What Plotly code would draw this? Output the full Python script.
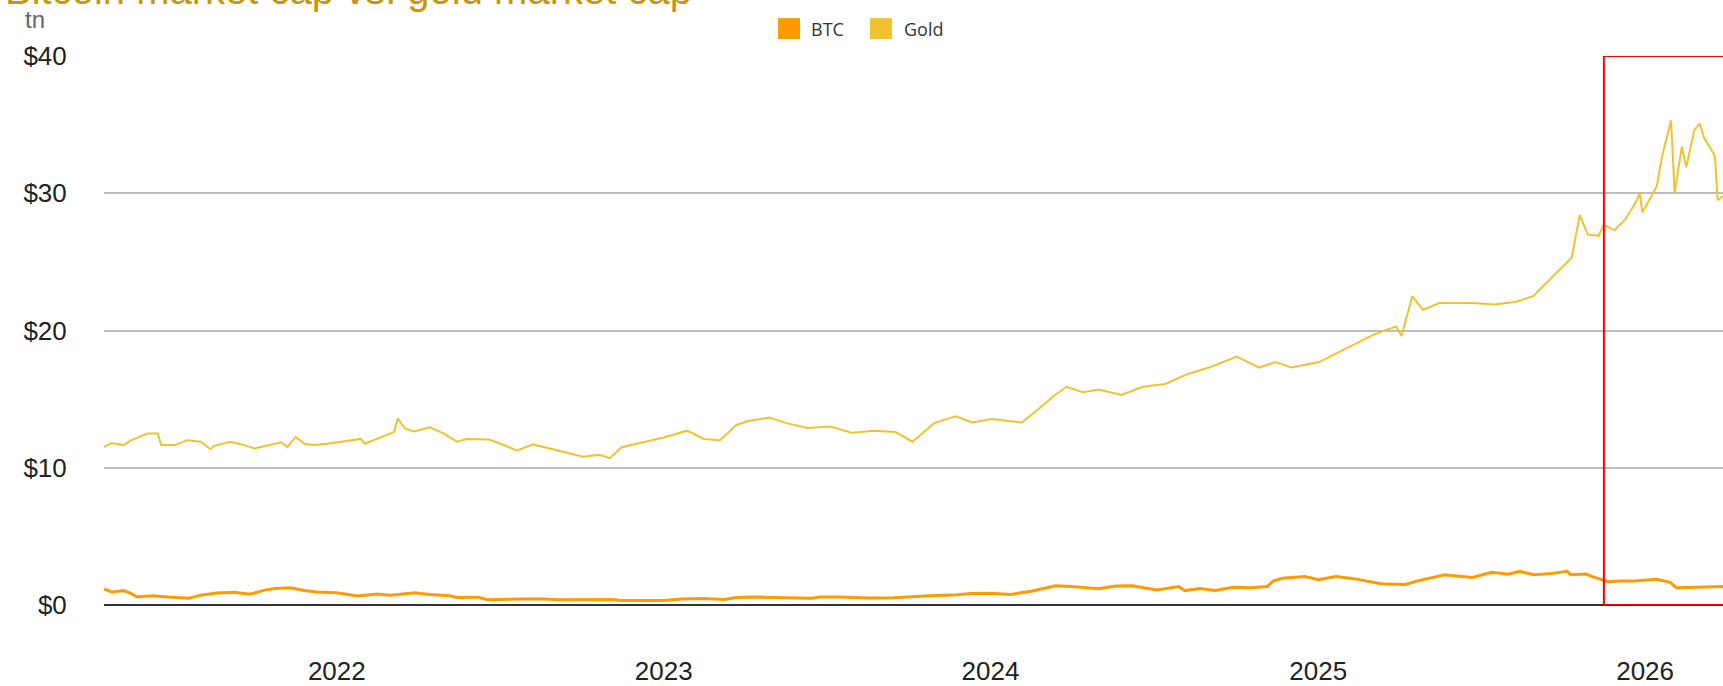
import plotly.graph_objects as go

# market caps in $ trillions
gold_dates = [
    "2021-04-16", "2021-04-24", "2021-05-08", "2021-05-16", "2021-06-04", "2021-06-15", "2021-06-19",
    "2021-07-04", "2021-07-18", "2021-08-02", "2021-08-13", "2021-08-17", "2021-09-04", "2021-09-20",
    "2021-10-01", "2021-10-16", "2021-10-31", "2021-11-07", "2021-11-16", "2021-11-26", "2021-12-07",
    "2021-12-21", "2022-01-05", "2022-01-28", "2022-02-01", "2022-02-19", "2022-03-06", "2022-03-10",
    "2022-03-18", "2022-03-28", "2022-04-15", "2022-04-30", "2022-05-15", "2022-05-26", "2022-06-11",
    "2022-06-20", "2022-07-09", "2022-07-21", "2022-08-08", "2022-08-27", "2022-09-14", "2022-10-03",
    "2022-10-21", "2022-11-02", "2022-11-15", "2022-12-03", "2023-01-01", "2023-01-27", "2023-02-15",
    "2023-03-05", "2023-03-23", "2023-04-05", "2023-04-29", "2023-05-18", "2023-06-11", "2023-07-06",
    "2023-07-30", "2023-08-24", "2023-09-17", "2023-10-06", "2023-10-30", "2023-11-23", "2023-12-12",
    "2024-01-02", "2024-02-05", "2024-02-24", "2024-03-13", "2024-03-26", "2024-04-13", "2024-05-01",
    "2024-05-26", "2024-06-19", "2024-07-14", "2024-08-07", "2024-09-01", "2024-10-02", "2024-10-27",
    "2024-11-14", "2024-12-02", "2025-01-02", "2025-02-01", "2025-03-04", "2025-03-29", "2025-04-04",
    "2025-04-16", "2025-04-28", "2025-05-16", "2025-06-22", "2025-07-17", "2025-08-10", "2025-08-29",
    "2025-09-16", "2025-10-11", "2025-10-20", "2025-10-29", "2025-11-10", "2025-11-16", "2025-11-28",
    "2025-12-10", "2025-12-23", "2025-12-26", "2025-12-29", "2026-01-04", "2026-01-14", "2026-01-20",
    "2026-01-25", "2026-01-30", "2026-02-03", "2026-02-11", "2026-02-16", "2026-02-25", "2026-03-03",
    "2026-03-08", "2026-03-14", "2026-03-20", "2026-03-23", "2026-03-29",
]
gold_values = [
    11.5, 11.8, 11.65, 12.0, 12.5, 12.5, 11.65,
    11.65, 12.0, 11.9, 11.35, 11.6, 11.9, 11.65,
    11.4, 11.65, 11.85, 11.5, 12.25, 11.75, 11.65,
    11.75, 11.9, 12.1, 11.75, 12.2, 12.6, 13.6,
    12.85, 12.65, 12.95, 12.5, 11.9, 12.1, 12.1,
    12.05, 11.6, 11.25, 11.7, 11.4, 11.1, 10.8,
    10.95, 10.7, 11.5, 11.75, 12.2, 12.7, 12.1,
    12.0, 13.1, 13.4, 13.65, 13.25, 12.9, 13.0,
    12.55, 12.7, 12.6, 11.9, 13.25, 13.75, 13.3,
    13.55, 13.3, 14.3, 15.3, 15.9, 15.5, 15.7,
    15.3, 15.9, 16.1, 16.8, 17.3, 18.1, 17.3,
    17.7, 17.3, 17.7, 18.7, 19.7, 20.3, 19.6,
    22.5, 21.5, 22.0, 22.0, 21.9, 22.1, 22.5,
    23.7, 25.3, 28.4, 27.0, 26.9, 27.7, 27.3,
    28.1, 29.5, 30.05, 28.6, 29.3, 30.5, 32.7,
    33.9, 35.3, 30.05, 33.4, 31.9, 34.6, 35.1,
    34.0, 33.4, 32.7, 29.5, 29.8,
]

btc_dates = [
    "2021-04-16", "2021-04-25", "2021-05-08", "2021-05-16", "2021-05-23", "2021-06-10", "2021-06-26",
    "2021-07-20", "2021-08-02", "2021-08-20", "2021-09-08", "2021-09-26", "2021-10-10", "2021-10-23",
    "2021-11-10", "2021-11-26", "2021-12-10", "2022-01-01", "2022-01-24", "2022-02-15", "2022-03-02",
    "2022-03-29", "2022-04-15", "2022-05-07", "2022-05-15", "2022-06-08", "2022-06-18", "2022-07-25",
    "2022-08-14", "2022-09-07", "2022-10-22", "2022-11-05", "2022-11-15", "2022-12-15", "2023-01-01",
    "2023-01-21", "2023-02-15", "2023-03-10", "2023-03-23", "2023-04-13", "2023-05-23", "2023-06-15",
    "2023-06-25", "2023-07-15", "2023-08-20", "2023-09-15", "2023-10-25", "2023-11-20", "2023-12-10",
    "2024-01-02", "2024-01-23", "2024-02-15", "2024-03-14", "2024-04-01", "2024-04-30", "2024-05-20",
    "2024-06-07", "2024-07-05", "2024-07-29", "2024-08-05", "2024-08-22", "2024-09-08", "2024-09-28",
    "2024-10-17", "2024-11-05", "2024-11-12", "2024-11-22", "2024-12-17", "2025-01-01", "2025-01-21",
    "2025-02-10", "2025-02-28", "2025-03-12", "2025-04-08", "2025-04-22", "2025-05-22", "2025-06-22",
    "2025-07-14", "2025-08-01", "2025-08-14", "2025-08-30", "2025-09-18", "2025-10-06", "2025-10-10",
    "2025-10-27", "2025-11-04", "2025-11-16", "2025-11-21", "2025-12-05", "2025-12-20", "2026-01-14",
    "2026-01-29", "2026-02-05", "2026-02-20", "2026-03-10", "2026-03-29",
]
btc_values = [
    1.17, 0.95, 1.05, 0.85, 0.6, 0.68, 0.58,
    0.5, 0.72, 0.88, 0.92, 0.78, 1.05, 1.2,
    1.25, 1.05, 0.95, 0.9, 0.65, 0.8, 0.72,
    0.9, 0.77, 0.68, 0.55, 0.57, 0.38, 0.43,
    0.46, 0.38, 0.37, 0.4, 0.32, 0.33, 0.32,
    0.44, 0.47, 0.4, 0.54, 0.58, 0.52, 0.49,
    0.59, 0.59, 0.51, 0.52, 0.67, 0.72, 0.84,
    0.86, 0.77, 1.0, 1.4, 1.35, 1.18, 1.38,
    1.4, 1.1, 1.35, 1.05, 1.2, 1.05, 1.3,
    1.25, 1.35, 1.76, 1.95, 2.07, 1.85, 2.07,
    1.92, 1.68, 1.55, 1.5, 1.76, 2.2, 2.0,
    2.38, 2.25, 2.45, 2.2, 2.3, 2.45, 2.2,
    2.25, 2.05, 1.84, 1.7, 1.75, 1.75, 1.87,
    1.65, 1.25, 1.27, 1.3, 1.35,
]

year_ticks = ["2022-01-01", "2023-01-01", "2024-01-01", "2025-01-01", "2026-01-01"]
year_labels = ["2022", "2023", "2024", "2025", "2026"]
y_ticks = [0, 10, 20, 30, 40]
y_labels = ["$0", "$10", "$20", "$30", "$40"]

x_range = ["2021-04-16", "2026-03-29"]
highlight_start = "2025-11-16"

BTC_COLOR = "#FF9A00"
GOLD_COLOR = "#F0C232"

fig = go.Figure()

fig.add_trace(go.Scatter(x=gold_dates, y=gold_values, mode="lines",
                         line=dict(color=GOLD_COLOR, width=2), hoverinfo="skip"))
fig.add_trace(go.Scatter(x=btc_dates, y=btc_values, mode="lines",
                         line=dict(color=BTC_COLOR, width=3), hoverinfo="skip"))

# red highlight box
fig.add_shape(type="rect", xref="x", yref="y", x0=highlight_start, x1="2026-06-30", y0=0, y1=40,
              line=dict(color="#FF0000", width=2), fillcolor="rgba(0,0,0,0)", layer="above")

# legend drawn by hand so the swatches are big squares
legend_font = dict(family="Open Sans", size=18, color="#333333")
fig.add_shape(type="rect", xref="paper", yref="paper", x0=0.4163, x1=0.4299, y0=1.031, y1=1.069,
              fillcolor=BTC_COLOR, line=dict(width=0))
fig.add_shape(type="rect", xref="paper", yref="paper", x0=0.4731, x1=0.4867, y0=1.031, y1=1.069,
              fillcolor=GOLD_COLOR, line=dict(width=0))
fig.add_annotation(text="BTC", xref="paper", yref="paper", x=0.4355, y=1.05, xanchor="left",
                   yanchor="middle", showarrow=False, font=legend_font)
fig.add_annotation(text="Gold", xref="paper", yref="paper", x=0.4929, y=1.05, xanchor="left",
                   yanchor="middle", showarrow=False, font=legend_font)

fig.add_annotation(text="Bitcoin market cap vs. gold market cap", xref="paper", yref="paper",
                   x=-0.0625, y=1.12, xanchor="left", yanchor="middle", showarrow=False,
                   font=dict(family="Liberation Sans", size=40, color="#C8960C"))
fig.add_annotation(text="tn", xref="paper", yref="paper", x=-0.05, y=1.067,
                   xanchor="left", yanchor="middle", showarrow=False,
                   font=dict(family="Liberation Sans", size=24, color="#666666"))

fig.update_layout(
    width=1723, height=686,
    margin=dict(l=104, r=0, t=56, b=79),
    plot_bgcolor="white", paper_bgcolor="white",
    showlegend=False,
    xaxis=dict(range=x_range, tickvals=year_ticks, ticktext=year_labels, showgrid=False,
               showline=False, zeroline=False, ticks="outside", ticklen=43,
               tickcolor="rgba(0,0,0,0)", tickfont=dict(family="Liberation Sans", size=26, color="#222222")),
    yaxis=dict(range=[0, 40], tickvals=y_ticks, ticktext=y_labels, showgrid=True,
               gridcolor="#BDBDBD", gridwidth=1.5, zeroline=True, zerolinecolor="#333333",
               zerolinewidth=1.5, ticks="outside", ticklen=31, tickcolor="rgba(0,0,0,0)",
               tickfont=dict(family="Liberation Sans", size=26, color="#222222")),
)

# drop the default 8px page margin so the figure sits at the window's corner
fig.write_html("out.html", config={"displayModeBar": False},
               post_script="document.body.style.margin='0px';")
